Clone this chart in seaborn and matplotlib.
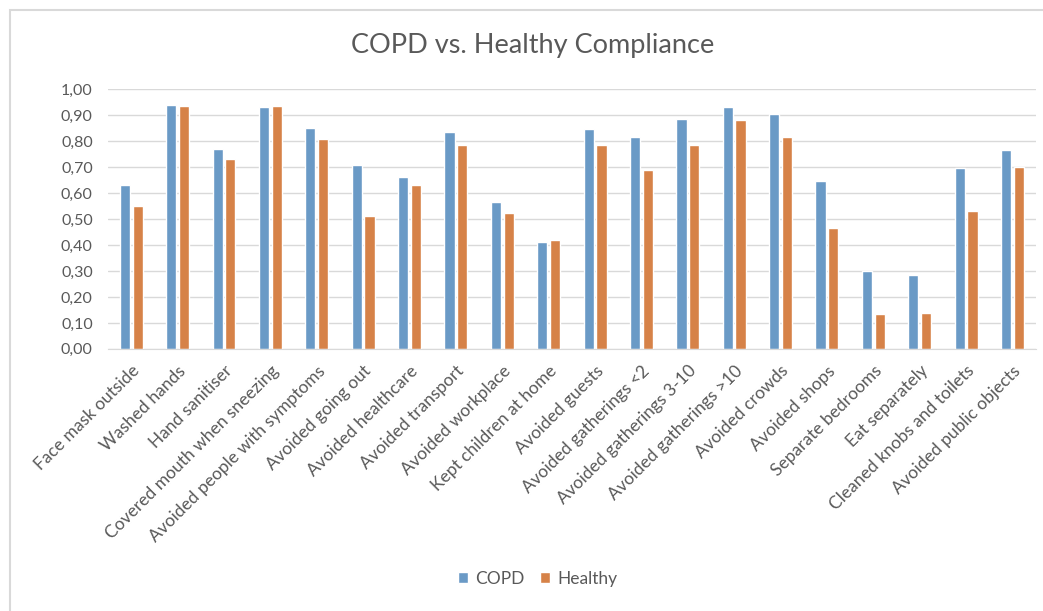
import pandas as pd
import seaborn as sns
import matplotlib.pyplot as plt
from matplotlib.ticker import FuncFormatter
from matplotlib.patches import Rectangle

# compliance per behaviour
behaviours = ['Face mask outside', 'Washed hands', 'Hand sanitiser',
              'Covered mouth when sneezing', 'Avoided people with symptoms',
              'Avoided going out', 'Avoided healthcare', 'Avoided transport',
              'Avoided workplace', 'Kept children at home', 'Avoided guests',
              'Avoided gatherings <2', 'Avoided gatherings 3-10',
              'Avoided gatherings >10', 'Avoided crowds', 'Avoided shops',
              'Separate bedrooms', 'Eat separately', 'Cleaned knobs and toilets',
              'Avoided public objects']
copd = [0.63, 0.94, 0.77, 0.93, 0.85, 0.71, 0.66, 0.835, 0.565, 0.41,
        0.845, 0.815, 0.885, 0.93, 0.905, 0.645, 0.30, 0.285, 0.695, 0.765]
healthy = [0.55, 0.935, 0.73, 0.935, 0.81, 0.51, 0.63, 0.785, 0.525, 0.42,
           0.785, 0.69, 0.785, 0.88, 0.815, 0.465, 0.135, 0.14, 0.53, 0.70]
groups = ['COPD', 'Healthy']
colors = ['#5B9BD5', '#ED7D31']

df = pd.DataFrame({'behaviour': behaviours * 2,
                   'group': [groups[0]] * len(copd) + [groups[1]] * len(healthy),
                   'value': copd + healthy})

sns.set_style('white')
plt.rcParams['font.family'] = ['Lato', 'DejaVu Sans']
txt = '#595959'

fig = plt.figure(figsize=(10.43, 6.11), dpi=100)
# light frame round the chart area (right and bottom edges fall off the picture)
fig.patches.append(Rectangle((10 / 1043, -0.05), 1.05, 1.05 - 10 / 611, transform=fig.transFigure,
                             fill=False, edgecolor='#d9d9d9', linewidth=1.5))
ax = fig.add_axes([0.1036, 0.429, 0.8894, 0.425])

sns.barplot(data=df, x='behaviour', y='value', hue='group', palette=colors,
            width=0.55, gap=0.2, ax=ax, legend=True)

ax.set_ylim(0, 1.0)
ax.set_xlim(-0.5, len(behaviours) - 0.5)
ax.set_yticks([i / 10 for i in range(11)])
ax.yaxis.set_major_formatter(FuncFormatter(lambda v, p: f'{v:.2f}'.replace('.', ',')))
ax.grid(axis='y', color='#d9d9d9', linewidth=1)
ax.set_axisbelow(True)
for s in ['top', 'right', 'left']:
    ax.spines[s].set_visible(False)
ax.spines['bottom'].set_color('#d9d9d9')
ax.set_xlabel('')
ax.set_ylabel('')
ax.tick_params(axis='y', labelsize=11.5, colors=txt, length=0, pad=11)
ax.tick_params(axis='x', labelsize=12.5, colors=txt, length=0, pad=10)
plt.setp(ax.get_xticklabels(), rotation=45, ha='right', rotation_mode='anchor')

fig.text(533 / 1043, 1 - 45 / 611, 'COPD vs. Healthy Compliance', fontsize=19.5,
         color=txt, ha='center', va='center')

ax.legend(loc='center', bbox_to_anchor=(0.463, -0.885), bbox_transform=ax.transAxes,
          ncol=2, frameon=False, fontsize=12.5, handlelength=0.6, handleheight=0.6,
          columnspacing=0.9, handletextpad=0.4, labelcolor=txt)

fig.savefig('out.png', dpi=100)
